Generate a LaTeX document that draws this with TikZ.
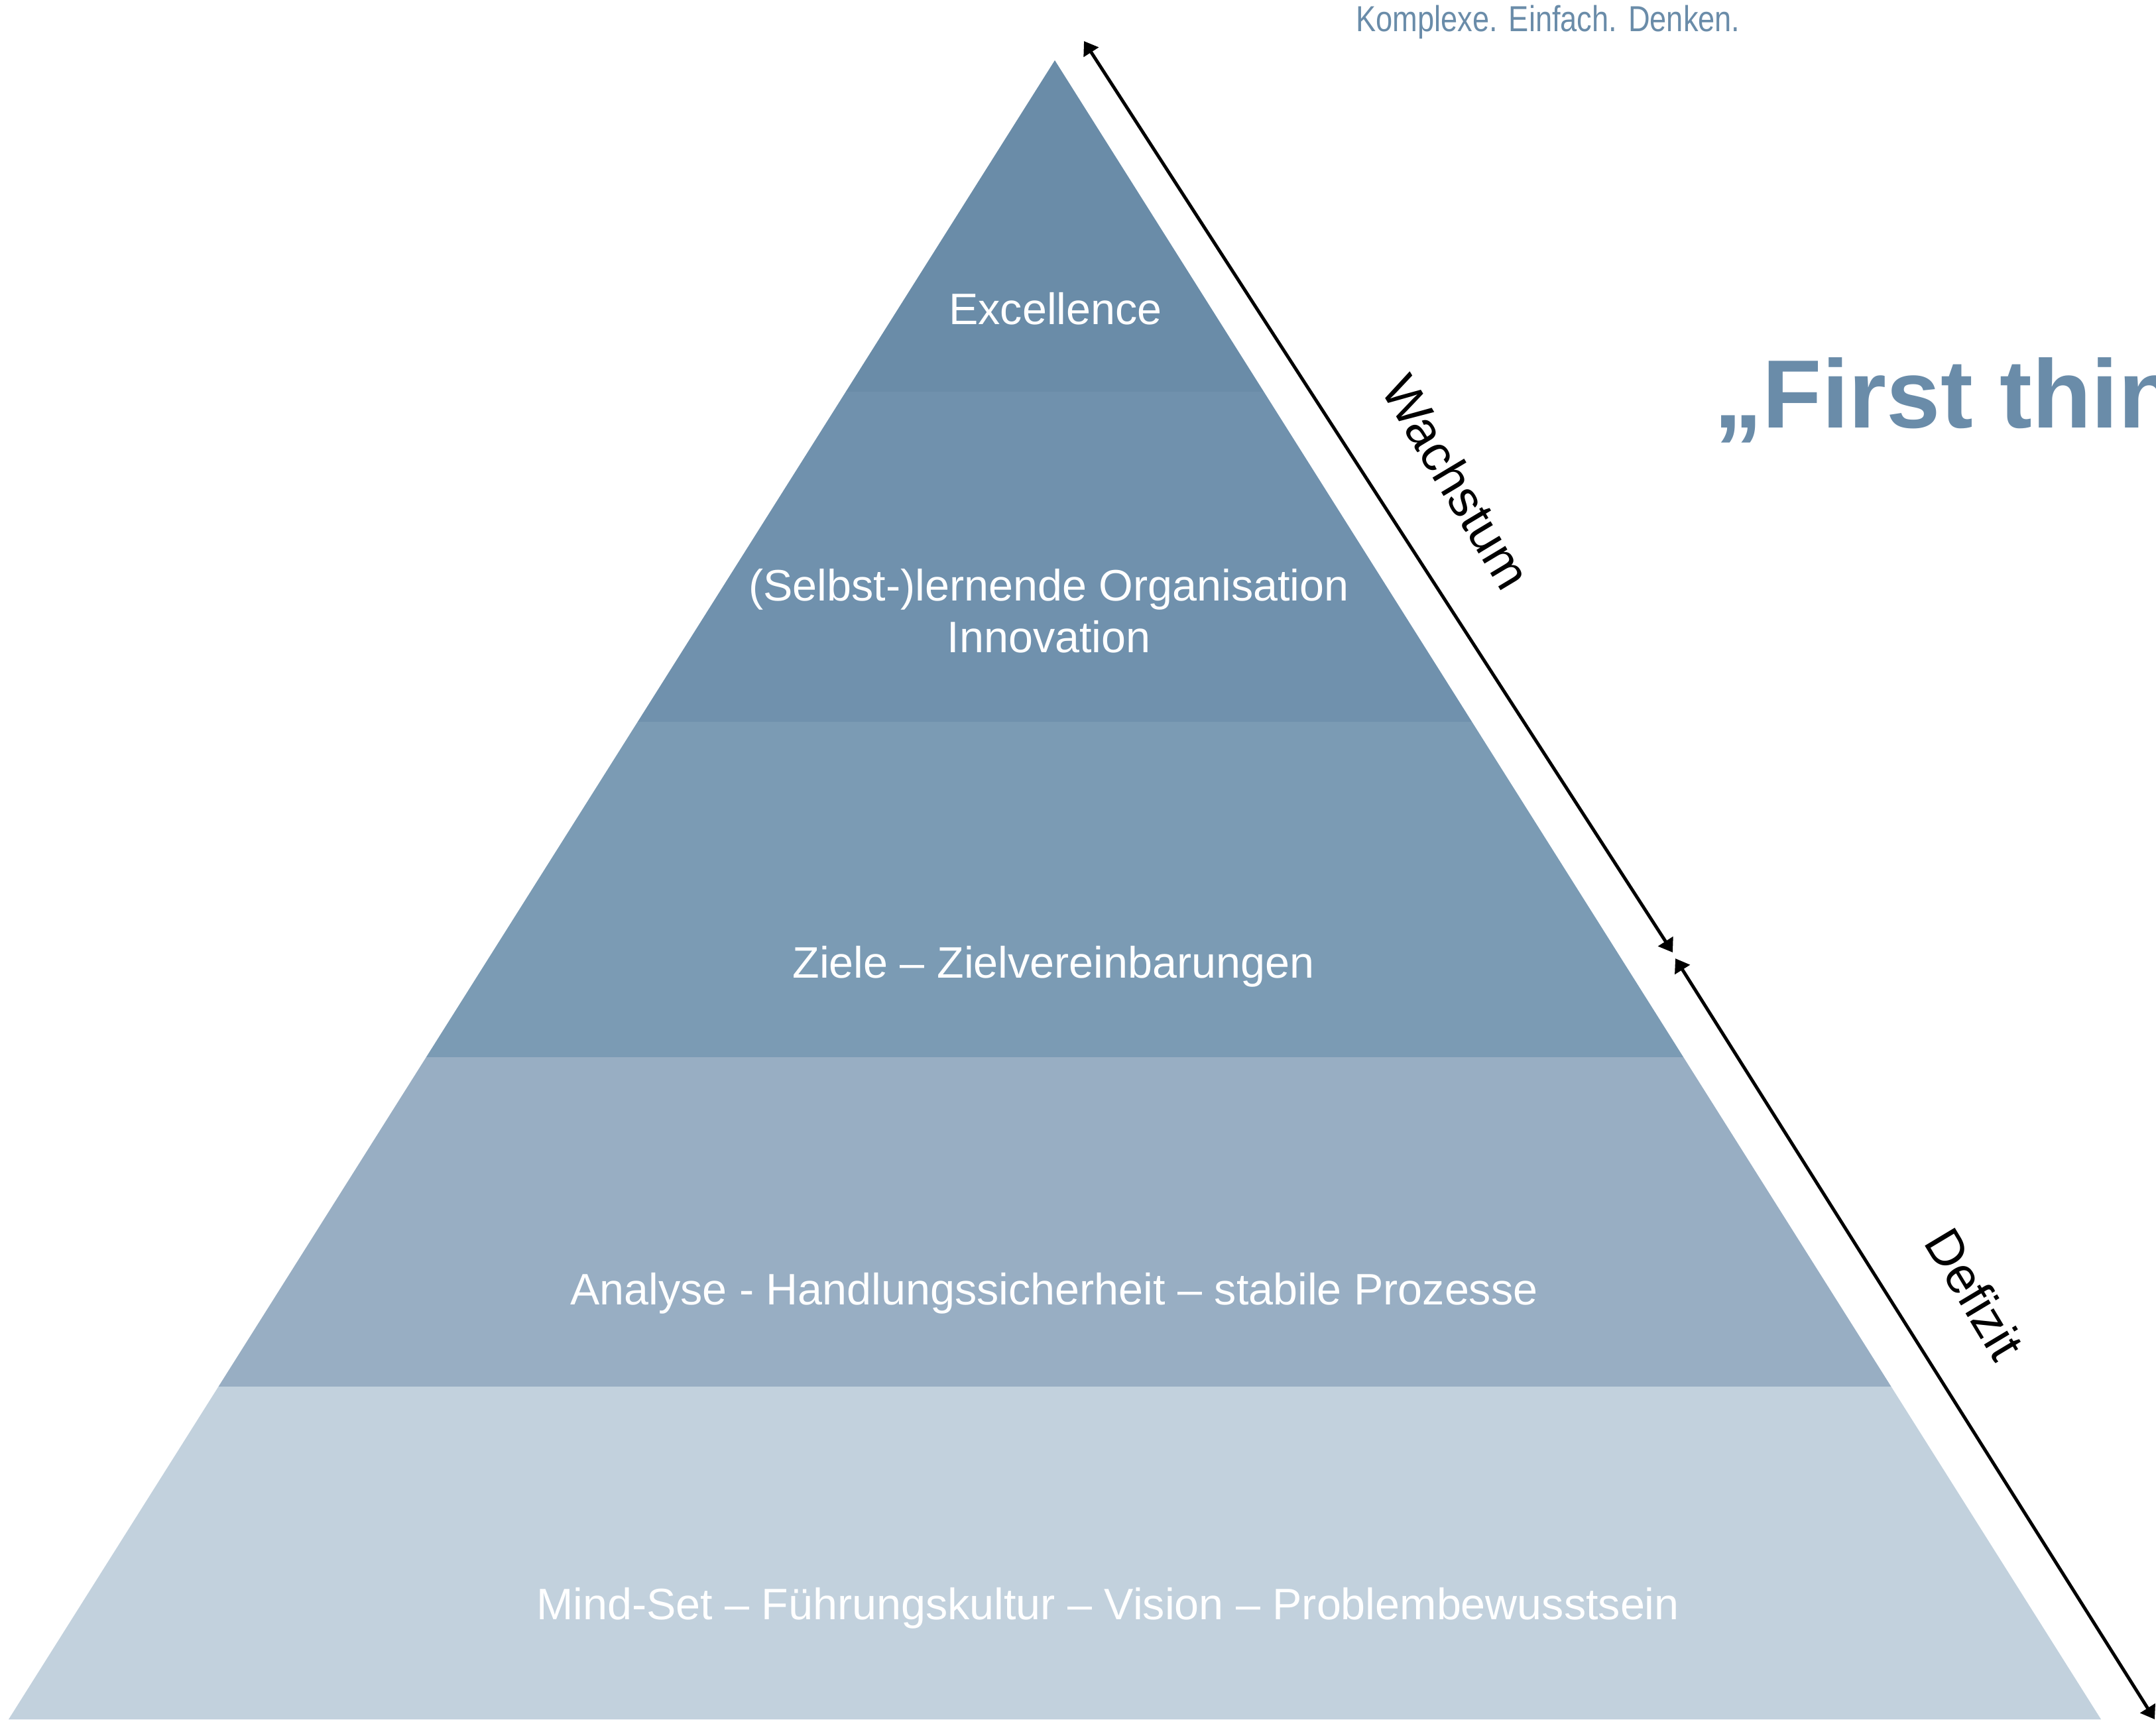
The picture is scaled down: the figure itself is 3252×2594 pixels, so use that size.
\documentclass[tikz,border=0pt]{standalone}
\usepackage{fontspec}
\setsansfont{Liberation Sans}[Ligatures=CommonOff]
\newfontfamily\narrowsans{Liberation Sans}[FakeStretch=0.83]
\usetikzlibrary{arrows.meta}

\definecolor{lvlA}{RGB}{106,140,168}
\definecolor{lvlB}{RGB}{112,145,173}
\definecolor{lvlC}{RGB}{123,155,180}
\definecolor{lvlD}{RGB}{152,174,195}
\definecolor{lvlE}{RGB}{194,209,221}
\definecolor{brand}{RGB}{106,140,169}

\begin{document}
\begin{tikzpicture}[font=\sffamily, x=0.01cm, y=-0.01cm,
  lvl/.style={text=white, inner sep=0pt, font=\sffamily\fontsize{18.9}{22.2}\selectfont},
  side/.style={inner sep=0pt, rotate=-59, font=\sffamily\fontsize{21.8}{26}\selectfont},
  dimline/.style={line width=1.4pt, {Triangle[length=2mm,width=2.6mm]}-{Triangle[length=2mm,width=2.6mm]}}]
\useasboundingbox (0,0) rectangle (3252,2594);

\coordinate (apex) at (1591,91);
\coordinate (bl) at (13,2594);
\coordinate (br) at (3169,2594);
\begin{scope}
\clip (apex) -- (bl) -- (br) -- cycle;
\foreach \ya/\yb/\col in {91/591/lvlA, 591/1089/lvlB, 1089/1595/lvlC, 1595/2092/lvlD, 2092/2600/lvlE}
  \fill [\col] (0,\ya) rectangle (3252,\yb);
\end{scope}

\node (exc) [lvl, anchor=base] at (1592,489) {Excellence};
\node (lern) [lvl, anchor=north, align=center] at (1582,858) {(Selbst-)lernende Organisation\\Innovation};
\node (ziel) [lvl, anchor=base] at (1589,1475) {Ziele – Zielvereinbarungen};
\node (anal) [lvl, anchor=base] at (1590,1968) {Analyse - Handlungssicherheit – stabile Prozesse};
\node (mind) [lvl, anchor=base] at (1671,2443) {Mind-Set – Führungskultur – Vision – Problembewusstsein};

\coordinate (wtop) at (1635,62);
\coordinate (wbot) at (2523,1437);
\coordinate (dtop) at (2527,1446);
\coordinate (dbot) at (3250,2594);
\draw [dimline] (wtop) -- (wbot);
\draw [dimline] (dtop) -- (dbot);
\node (wachs) [side] at (2197,727) {Wachstum};
\node (defi) [side] at (2979,1952) {Defizit};

\node (claim) [anchor=base, inner sep=0pt, text=brand, font=\narrowsans\fontsize{15.5}{18}\selectfont] at (2335,48) {Komplexe. Einfach. Denken.};
\node (title) [anchor=base west, inner sep=0pt, text=brand, font=\sffamily\bfseries\fontsize{41.6}{50}\selectfont] at (2585,645) {„First thin};
\end{tikzpicture}
\end{document}
